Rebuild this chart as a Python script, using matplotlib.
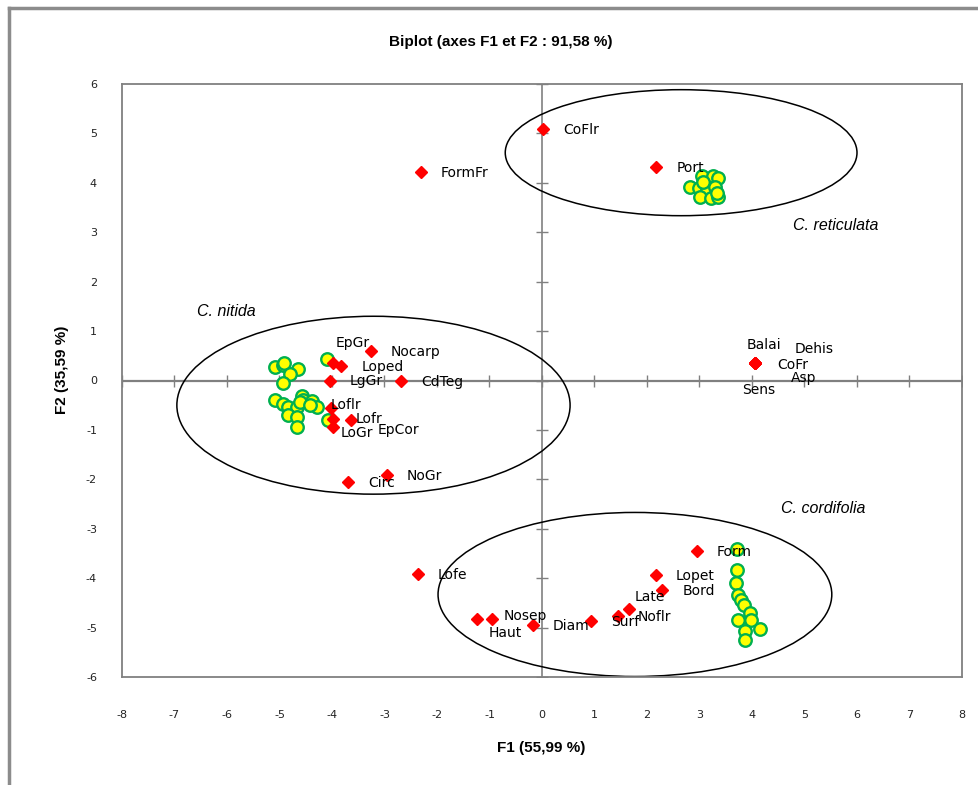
import numpy as np
import matplotlib.pyplot as plt
from matplotlib.patches import Ellipse
from matplotlib.lines import Line2D

plt.rcParams["axes.unicode_minus"] = False

# ------------------------------
# variables (red points)
# ------------------------------
var_names = ["CoFlr", "Port", "FormFr",
             "Nocarp", "EpGr", "Loped", "LgGr", "CdTeg", "Loflr", "Lofr", "EpCor", "LoGr", "Circ", "NoGr",
             "Balai", "Dehis", "CoFr", "Asp", "Sens",
             "Lofe", "Haut", "Nosep", "Diam", "Surf", "Noflr", "Late", "Bord", "Lopet", "Form"]
var_x = [0.02, 2.18, -2.31,
         -3.26, -3.98, -3.82, -4.04, -2.68, -4.01, -3.99, -3.63, -3.99, -3.69, -2.96,
         4.06, 4.06, 4.06, 4.06, 4.06,
         -2.36, -1.24, -0.96, -0.17, 0.93, 1.44, 1.65, 2.29, 2.17, 2.95]
var_y = [5.09, 4.32, 4.21,
         0.60, 0.35, 0.29, 0.00, -0.02, -0.56, -0.78, -0.80, -0.94, -2.06, -1.91,
         0.35, 0.35, 0.35, 0.35, 0.35,
         -3.92, -4.83, -4.83, -4.95, -4.86, -4.77, -4.63, -4.24, -3.94, -3.45]

# ------------------------------
# observations (yellow/green circles)
# ------------------------------
obs_nitida_x = [-5.09, -4.94, -4.91, -4.64, -4.80, -4.94, -4.10, -5.09, -4.93, -4.83, -4.67,
                -4.58, -4.55, -4.61, -4.39, -4.29, -4.42, -4.83, -4.67, -4.67, -4.07]
obs_nitida_y = [0.27, 0.31, 0.36, 0.23, 0.13, -0.06, 0.44, -0.39, -0.48, -0.53, -0.53,
                -0.31, -0.39, -0.43, -0.41, -0.53, -0.50, -0.70, -0.73, -0.94, -0.80]
obs_retic_x = [3.04, 3.25, 3.36, 2.82, 2.99, 3.14, 3.30, 3.01, 3.22, 3.36, 3.07, 3.33]
obs_retic_y = [4.14, 4.13, 4.09, 3.92, 3.89, 3.87, 3.91, 3.71, 3.69, 3.72, 4.02, 3.79]
obs_cord_x = [3.71, 3.71, 3.69, 3.74, 3.79, 3.85, 3.96, 3.99, 3.74, 4.15, 3.87, 3.87]
obs_cord_y = [-3.40, -3.84, -4.09, -4.34, -4.44, -4.54, -4.70, -4.85, -4.85, -5.02, -5.06, -5.25]

# groupes (ellipses): centre, largeur, hauteur
groups = ["C. reticulata", "C. nitida", "C. cordifolia"]
ell_cx = [2.65, -3.21, 1.77]
ell_cy = [4.61, -0.50, -4.33]
ell_w = [6.70, 7.49, 7.50]
ell_h = [2.55, 3.60, 3.32]

ticks = list(range(-8, 9))
yticks = list(range(-6, 7))

# décalage des étiquettes (pixels, dx vers la droite, dy vers le bas)
default_off = (20, 1)
label_off = {"EpGr": (3, -20), "Loflr": (-1, -3), "Lofr": (23, 0), "EpCor": (26, 10), "LoGr": (8, 6),
             "Balai": (-9, -18), "Dehis": (39, -14), "CoFr": (22, 2), "Asp": (36, 15), "Sens": (-13, 27),
             "Haut": (12, 14), "Nosep": (12, -3), "Late": (6, -12)}
group_pos = {"C. reticulata": (4.78, 3.13), "C. nitida": (-6.57, 1.39), "C. cordifolia": (4.55, -2.60)}

# ------------------------------
# figure
# ------------------------------
W, H = 979, 785
fig = plt.figure(figsize=(W / 100, H / 100), dpi=100)
ax = fig.add_axes([122 / W, 1 - 677 / H, 840 / W, 593 / H])
ax.set_xlim(-8, 8)
ax.set_ylim(-6, 6)

gray = "#808080"
for s in ax.spines.values():
    s.set_color(gray)
    s.set_linewidth(1.3)

ax.axhline(0, color=gray, lw=1.6, zorder=1)
ax.axvline(0, color=gray, lw=1.2, zorder=1)
ax.plot(ticks, np.zeros(len(ticks)), ls="none", marker="|", ms=9, mew=1, color=gray, zorder=1)
ax.plot(np.zeros(len(yticks)), yticks, ls="none", marker="_", ms=9, mew=1, color=gray, zorder=1)

ax.set_xticks(ticks)
ax.set_yticks(yticks)
ax.tick_params(length=0, labelsize=8, colors="#222222")
ax.tick_params(axis="x", pad=24)
ax.tick_params(axis="y", pad=18)

for cx, cy, w, h in zip(ell_cx, ell_cy, ell_w, ell_h):
    ax.add_patch(Ellipse((cx, cy), w, h, fill=False, ec="black", lw=1.1, zorder=2))

ax.plot(obs_nitida_x, obs_nitida_y, "o", ms=9, mfc="#FFFF00", mec="#00B050", mew=1.7, zorder=3)
ax.plot(obs_retic_x, obs_retic_y, "o", ms=9, mfc="#FFFF00", mec="#00B050", mew=1.7, zorder=3)
ax.plot(obs_cord_x, obs_cord_y, "o", ms=9, mfc="#FFFF00", mec="#00B050", mew=1.7, zorder=3)

ax.plot(var_x, var_y, "D", ms=6, color="#FF0000", zorder=4)

for name, x, y in zip(var_names, var_x, var_y):
    dx, dy = label_off.get(name, default_off)
    ax.annotate(name, (x, y), xytext=(dx * 0.72, -dy * 0.72), textcoords="offset points",
                ha="left", va="center", fontsize=10, color="black", zorder=5)

for g in groups:
    gx, gy = group_pos[g]
    ax.text(gx, gy, g, fontsize=11.5, style="italic", family="Liberation Sans",
            ha="left", va="center")

fig.text(501 / W, 1 - 42 / H, "Biplot (axes F1 et F2 : 91,58 %)", ha="center", va="center",
         fontsize=11, fontweight="bold", family="Liberation Sans")
fig.text(541 / W, 1 - 748 / H, "F1 (55,99 %)", ha="center", va="center",
         fontsize=11, fontweight="bold", family="Liberation Sans")
fig.text(62 / W, 1 - 370 / H, "F2 (35,59 %)", ha="center", va="center", rotation=90,
         fontsize=11, fontweight="bold", family="Liberation Sans")

# bordure du graphique
fig.add_artist(Line2D([9 / W, 9 / W], [0, 1 - 8 / H], color="#8c8c8c", lw=2.5))
fig.add_artist(Line2D([9 / W, 1], [1 - 8 / H, 1 - 8 / H], color="#8c8c8c", lw=2.5))

plt.savefig("out.png", dpi=100)
